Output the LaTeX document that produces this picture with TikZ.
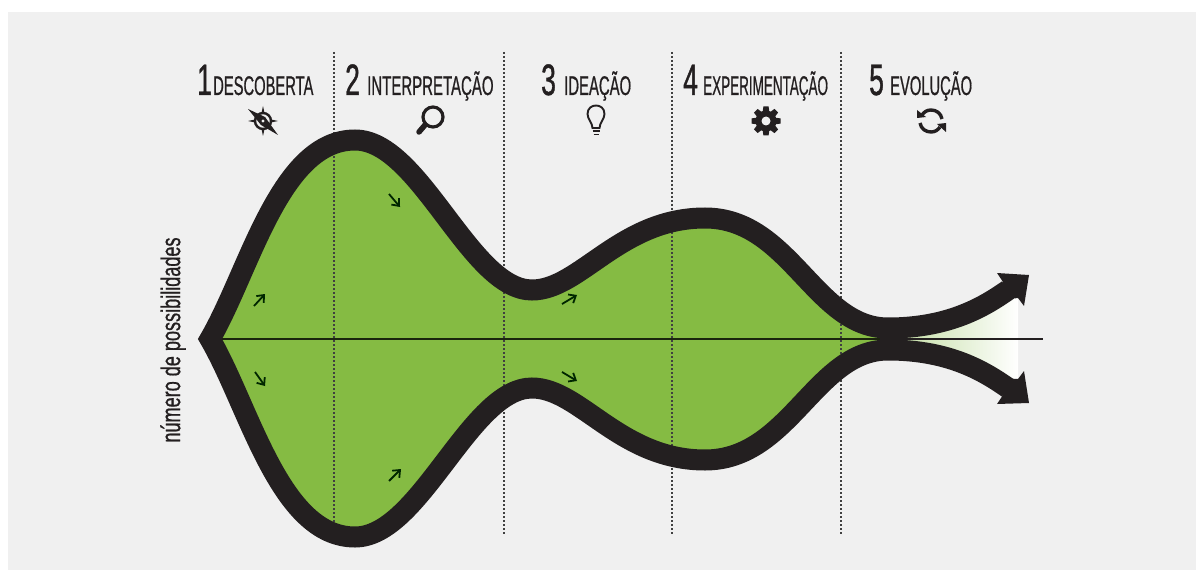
\documentclass[tikz,border=0pt]{standalone}
\usepackage{graphicx}
\usepackage{fontspec}
\usetikzlibrary{arrows.meta}
\setmainfont[FakeStretch=0.52,FakeBold=0.6]{Liberation Sans}
\newfontfamily\numfont[FakeStretch=0.6,FakeBold=0.9]{Liberation Sans}
\newfontfamily\rotfont[FakeStretch=0.67,FakeBold=0.7]{Liberation Sans}
\definecolor{panel}{HTML}{F0F0F0}
\definecolor{leaf}{HTML}{85BB43}
\definecolor{ink}{HTML}{231F20}
\tikzset{
  num/.style={anchor=base west,inner sep=0pt,font=\numfont\fontsize{44}{44}\selectfont,text=ink},
  word/.style={anchor=base west,inner sep=0pt,font=\fontsize{27}{27}\selectfont,text=ink},
  band/.style={draw=ink,line width=21pt,miter limit=10,line join=miter},
  guide/.style={draw=black!75,line width=1.1pt,dash pattern=on 2pt off 2pt},
  small/.style={draw=black!85!green,line width=1.8pt,-{Straight Barb[length=6pt,width=10pt,line width=1.8pt]}},
  icon/.style={fill=ink,draw=none}
}
\begin{document}
\begin{tikzpicture}[x=1pt,y=-1pt]
\useasboundingbox (0,0) rectangle (1204,572);
\fill[panel] (8,12) rectangle (1196,570);
% green body
\fill[leaf] (210,339) .. controls (250,270) and (280,140) .. (355,140)
  .. controls (420,140) and (470,290) .. (532,290)
  .. controls (580,290) and (620,218) .. (705,218)
  .. controls (790,218) and (815,328) .. (888,328)
  -- (888,350)
  .. controls (815,350) and (790,460) .. (705,460)
  .. controls (620,460) and (580,388) .. (532,388)
  .. controls (470,388) and (420,537) .. (355,537)
  .. controls (280,537) and (250,408) .. (210,339) -- cycle;
% fading tail
\shade[left color=leaf!55!white,right color=white]
  (880,328) .. controls (945,328) and (985,305) .. (1018,284) -- (1018,394)
  .. controls (985,373) and (945,350) .. (880,350) -- cycle;
% guides
\foreach \gx in {334,504,672,841} \draw[guide] (\gx,52) -- (\gx,534);
% axis
\draw[draw=ink,line width=2.4pt] (222,339) -- (1043,339);
\draw[draw=black!80!leaf,line width=2.4pt] (222,339) -- (880,339);
% bands
\draw[band] (1008,290) .. controls (985,306) and (950,328) .. (888,328)
  .. controls (815,328) and (790,218) .. (705,218)
  .. controls (620,218) and (580,290) .. (532,290)
  .. controls (470,290) and (420,140) .. (355,140)
  .. controls (280,140) and (250,270) .. (210,339)
  .. controls (250,408) and (280,537) .. (355,537)
  .. controls (420,537) and (470,388) .. (532,388)
  .. controls (580,388) and (620,460) .. (705,460)
  .. controls (790,460) and (815,350) .. (888,350)
  .. controls (950,350) and (985,372) .. (1008,388);
\fill[ink] (997,273) -- (1029,275) -- (1024,306) -- (1018,298) -- (1000,300) -- (1003,282) -- cycle;
\fill[ink] (997,404) -- (1029,403) -- (1024,371) -- (1018,379) -- (1000,378) -- (1003,395) -- cycle;
% small arrows
\draw[small] (254,306) -- (265,294);
\draw[small] (255,372) -- (265,386);
\draw[small] (389,194) -- (400,207);
\draw[small] (562,304) -- (577,295);
\draw[small] (562,372) -- (577,381);
\draw[small] (389,481) -- (401,469);
% headings
\node[num]  (n1) at (197,95) {1};
\node[word] (w1) at (213,95) {\scalebox{1.05}[1]{DESCOBERTA}};
\node[num]  (n2) at (345,95) {2};
\node[word] (w2) at (367,95) {\scalebox{1.068}[1]{INTERPRETAÇÃO}};
\node[num]  (n3) at (541,95) {3};
\node[word] (w3) at (564,95) {\scalebox{1.06}[1]{IDEAÇÃO}};
\node[num]  (n4) at (683,95) {4};
\node[word] (w4) at (703,95) {\scalebox{0.96}[1]{EXPERIMENTAÇÃO}};
\node[num]  (n5) at (869,95) {5};
\node[word] (w5) at (890,95) {\scalebox{1.05}[1]{EVOLUÇÃO}};
\node[rotate=90,inner sep=0pt,text=ink,font=\rotfont\fontsize{27}{27}\selectfont] (yl) at (173,340) {número de possibilidades};
% compass
\begin{scope}[shift={(263,121)}]
  \fill[ink] (-15,-12) -- (2,-4) -- (4,2) -- (-2,4) -- cycle;
  \fill[ink] (15,14) -- (-2,4) -- (-4,-2) -- (2,-4) -- cycle;
  \draw[ink,line width=2.4pt] (0,0) circle (8);
  \fill[ink] (0,-15) -- (1.5,-8) -- (-1.5,-8) -- cycle;
  \fill[ink] (0,15) -- (1.5,8) -- (-1.5,8) -- cycle;
  \fill[ink] (-15,0) -- (-8,1.5) -- (-8,-1.5) -- cycle;
  \fill[ink] (15,0) -- (8,1.5) -- (8,-1.5) -- cycle;
  \fill[panel] (0,0) circle (1.6);
\end{scope}
% magnifier
\draw[ink,line width=3.2pt] (433,117) circle (10);
\draw[ink,line width=5.5pt,line cap=round] (419,132) -- (425,125);
% bulb
\begin{scope}[shift={(596,116)}]
  \draw[ink,line width=1.9pt] (-3.5,12) .. controls (-3.5,7) and (-8.5,3) .. (-8.5,-2)
    .. controls (-8.5,-8) and (-4,-10.5) .. (0,-10.5) .. controls (4,-10.5) and (8.5,-8) .. (8.5,-2)
    .. controls (8.5,3) and (3.5,7) .. (3.5,12) -- cycle;
  \draw[ink,line width=1.9pt] (-3.5,15) -- (3.5,15) (-2.5,18.5) -- (2.5,18.5);
\end{scope}
% gear
\begin{scope}[shift={(766,121)}]
  \foreach \a in {0,45,...,315} \fill[ink,rotate=\a] (-3.5,-8) -- (-2.6,-14.5) -- (2.6,-14.5) -- (3.5,-8) -- cycle;
  \fill[ink] (0,0) circle (10.5);
  \fill[panel] (0,0) circle (4.5);
\end{scope}
% refresh
\begin{scope}[shift={(931,121)}]
  \draw[ink,line width=3.4pt] (11,-2) .. controls (10,-8) and (5,-11) .. (0,-11) .. controls (-4,-11) and (-7,-9) .. (-9,-6);
  \draw[ink,line width=3.4pt] (-11,2) .. controls (-10,8) and (-5,11) .. (0,11) .. controls (4,11) and (7,9) .. (9,6);
  \fill[ink] (-14,-11) -- (-14,-3) -- (-5,-4) -- cycle;
  \fill[ink] (15,2) -- (15,11) -- (6,3) -- cycle;
\end{scope}
\end{tikzpicture}
\end{document}
